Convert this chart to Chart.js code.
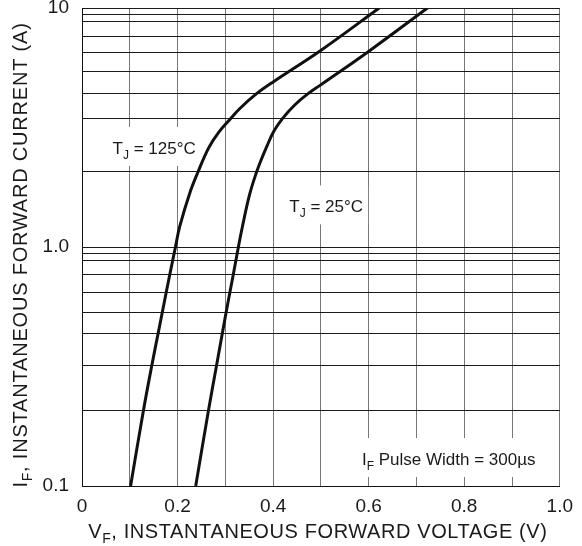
<!DOCTYPE html>
<html>
<head>
<meta charset="utf-8">
<script src="https://cdn.jsdelivr.net/npm/chart.js@4.4.1/dist/chart.umd.min.js"></script>
<style>
html, body { margin: 0; padding: 0; background: #fff; }
#wrap { width: 582px; height: 546px; }
</style>
</head>
<body>
<div id="wrap"><canvas id="chart" width="582" height="546"></canvas></div>
<script>
const FONT = "'Liberation Sans', Arial, sans-serif";
const INK = '#1a1a1a';

// forward curves
const V_125 = [0.1017, 0.1284, 0.1459, 0.1608, 0.1718, 0.1829, 0.1956, 0.2046, 0.2255, 0.2428, 0.2651, 0.286, 0.309, 0.3299, 0.3647, 0.4015, 0.5004, 0.6221];
const I_125 = [0.1, 0.206, 0.318, 0.45, 0.582, 0.753, 1.0, 1.22, 1.68, 2.06, 2.60, 3.02, 3.41, 3.79, 4.37, 4.93, 6.66, 10];
const V_25 = [0.238, 0.2645, 0.2814, 0.295, 0.3052, 0.3159, 0.3273, 0.3357, 0.3507, 0.3647, 0.3752, 0.3873, 0.4015, 0.4203, 0.4447, 0.4724, 0.5004, 0.5998, 0.723];
const I_25 = [0.1, 0.206, 0.318, 0.45, 0.582, 0.753, 1.0, 1.216, 1.655, 2.04, 2.32, 2.65, 3.05, 3.46, 3.92, 4.37, 4.78, 6.58, 10];

// grid lines and tick labels
const X_GRID = [0, 0.1, 0.2, 0.3, 0.4, 0.5, 0.6, 0.7, 0.8, 0.9, 1.0];
const X_LABELS = ['0', '', '0.2', '', '0.4', '', '0.6', '', '0.8', '', '1.0'];
const Y_GRID = [0.1, 0.206, 0.318, 0.433, 0.532, 0.647, 0.764, 0.877, 0.938,
                1, 2.06, 3.44, 4.37, 5.40, 6.52, 7.60, 8.79, 9.38, 10];
const Y_LABELS = ['0.1', '1.0', '10'];

// text notes anchored in data units (left edge, baseline)
const NOTES = [
  { x: 0.064, y: 2.45, parts: [['T'], ['J', 1], [' = 125°C']] },
  { x: 0.434, y: 1.396, parts: [['T'], ['J', 1], [' = 25°C']] },
  { x: 0.586, y: 0.1224, parts: [['I'], ['F', 1], [' Pulse Width = 300µs']] },
];

function drawRich(ctx, parts, x, y, size, center, spacing) {
  const sub = Math.round(size * 0.72);
  ctx.letterSpacing = (spacing || 0) + 'px';
  let total = 0;
  const widths = parts.map(([t, s]) => {
    ctx.font = (s ? sub : size) + 'px ' + FONT;
    const w = ctx.measureText(t).width;
    total += w;
    return w;
  });
  let cx = center ? x - total / 2 : x;
  parts.forEach(([t, s], i) => {
    ctx.font = (s ? sub : size) + 'px ' + FONT;
    ctx.fillText(t, cx, s ? y + size * 0.27 : y);
    cx += widths[i];
  });
  ctx.letterSpacing = '0px';
  return total;
}

const textPlugin = {
  id: 'datasheetText',
  beforeDatasetsDraw(chart) {
    const { ctx, scales: { x, y } } = chart;
    ctx.save();
    ctx.textAlign = 'left';
    ctx.textBaseline = 'alphabetic';
    NOTES.forEach(n => {
      const px = x.getPixelForValue(n.x);
      const py = y.getPixelForValue(n.y);
      ctx.fillStyle = 'rgba(0,0,0,0)';
      const w = drawRich(ctx, n.parts, px, py, 17);
      ctx.fillStyle = '#fff';
      ctx.fillRect(px - 5, py - 27, w + 10, 39);
      ctx.fillStyle = INK;
      drawRich(ctx, n.parts, px, py, 17);
    });
    ctx.restore();
  },
  afterDraw(chart) {
    const { ctx, chartArea } = chart;
    ctx.save();
    ctx.fillStyle = INK;
    ctx.textAlign = 'left';
    ctx.textBaseline = 'alphabetic';
    drawRich(ctx, [['V'], ['F', 1], [', INSTANTANEOUS FORWARD VOLTAGE (V)']],
      (chartArea.left + chartArea.right) / 2 - 3, 538, 20, true, 0.6);
    ctx.translate(27, 255);
    ctx.rotate(-Math.PI / 2);
    drawRich(ctx, [['I'], ['F', 1], [', INSTANTANEOUS FORWARD CURRENT (A)']],
      0, 0, 20, true, 0.8);
    ctx.restore();
  }
};

const curve = (vs, is) => vs.map((v, i) => ({ x: v, y: is[i] }));

new Chart(document.getElementById('chart'), {
  type: 'line',
  data: {
    datasets: [{
      label: 'TJ = 125°C',
      data: curve(V_125, I_125),
      borderColor: '#111',
      borderWidth: 3,
      pointRadius: 0,
      tension: 0.4,
    }, {
      label: 'TJ = 25°C',
      data: curve(V_25, I_25),
      borderColor: '#111',
      borderWidth: 3,
      pointRadius: 0,
      tension: 0.4,
    }]
  },
  options: {
    responsive: false,
    animation: false,
    events: [],
    layout: { padding: { top: 8, right: 21, left: 0, bottom: 0 } },
    plugins: { legend: { display: false }, tooltip: { enabled: false } },
    scales: {
      x: {
        type: 'linear',
        min: 0,
        max: 1,
        afterBuildTicks: s => { s.ticks = X_GRID.map(v => ({ value: v })); },
        afterFit: s => { s.height = 60; },
        grid: { color: '#777', lineWidth: 1, drawTicks: false },
        border: { color: '#111', width: 1 },
        ticks: {
          autoSkip: false,
          maxRotation: 0,
          padding: 9,
          color: INK,
          font: { family: FONT, size: 19 },
          callback: (v, i) => X_LABELS[i]
        }
      },
      y: {
        type: 'logarithmic',
        min: 0.1,
        max: 10,
        afterBuildTicks: s => { s.ticks = Y_GRID.map(v => ({ value: v })); },
        afterFit: s => { s.width = 82; s.paddingTop = 0; s.paddingBottom = 0; },
        grid: { color: '#1a1a1a', lineWidth: 1, drawTicks: false },
        border: { color: '#111', width: 1 },
        ticks: {
          autoSkip: false,
          padding: 13,
          color: INK,
          font: { family: FONT, size: 19 },
          callback: v => {
            const k = [0.1, 1, 10].indexOf(v);
            return k >= 0 ? Y_LABELS[k] : '';
          }
        }
      }
    }
  },
  plugins: [textPlugin]
});
</script>
</body>
</html>
